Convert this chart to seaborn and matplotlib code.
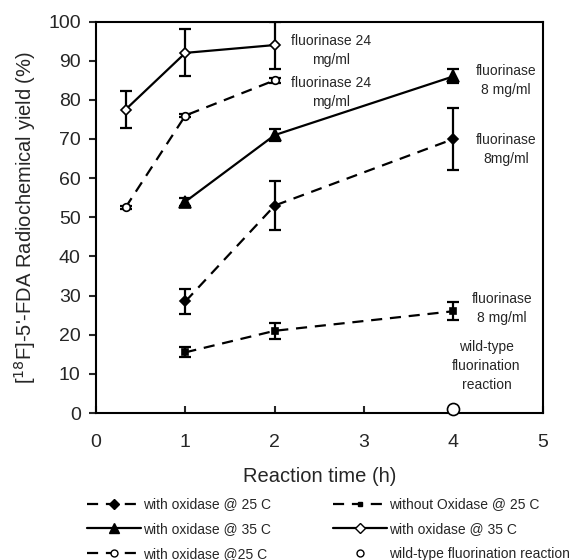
import matplotlib
matplotlib.use("Agg")
import matplotlib.pyplot as plt
from matplotlib.lines import Line2D
import seaborn as sns
import pandas as pd

# ---- data ----
t_late = [1, 2, 4]
t_early = [0.33, 1, 2]

ox25_y = [28.5, 53, 70]
ox25_err = [3.3, 6.2, 8.0]

noox25_y = [15.5, 21, 26]
noox25_err = [1.3, 2.0, 2.3]

ox35_tri_y = [54, 71, 86]
ox35_tri_err = [1.0, 1.6, 1.8]

ox35_dia_y = [77.5, 92, 94]
ox35_dia_err = [4.7, 6.0, 6.0]

ox25_circ_y = [52.5, 76, 85]
ox25_circ_err = [0.4, 0.4, 0.6]

wt_x = [4]
wt_y = [1]

labels_left = ["with oxidase @ 25 C", "with oxidase @ 35 C", "with oxidase @25 C"]
labels_right = ["without Oxidase @ 25 C", "with oxidase @ 35 C", "wild-type fluorination reaction"]

annotations = [
    (2.63, 92.6, "fluorinase 24\nmg/ml"),
    (2.63, 81.8, "fluorinase 24\nmg/ml"),
    (4.59, 85.0, "fluorinase\n8 mg/ml"),
    (4.59, 67.3, "fluorinase\n8mg/ml"),
    (4.54, 26.6, "fluorinase\n8 mg/ml"),
    (4.37, 12.0, "wild-type\nfluorination\nreaction"),
]

sns.set_theme(style="ticks")
plt.rcParams['font.family'] = ['Liberation Sans', 'DejaVu Sans']

fig = plt.figure(figsize=(5.75, 5.6), dpi=100)
ax = fig.add_axes([0.167, 0.2625, 0.777, 0.699])

LW = 1.6
DASH = (5, 3.5)

series = [
    (t_late, ox25_y, ox25_err, dict(marker="D", markersize=5, mfc="black", dashed=True)),
    (t_late, noox25_y, noox25_err, dict(marker="s", markersize=4, mfc="black", dashed=True)),
    (t_late, ox35_tri_y, ox35_tri_err, dict(marker="^", markersize=8, mfc="black", dashed=False)),
    (t_early, ox35_dia_y, ox35_dia_err, dict(marker="D", markersize=5.5, mfc="white", dashed=False)),
    (t_early, ox25_circ_y, ox25_circ_err, dict(marker="o", markersize=5.5, mfc="white", dashed=True)),
]

for x, y, e, st in series:
    df = pd.DataFrame({"x": x, "y": y})
    ax.errorbar(x, y, yerr=e, fmt="none", ecolor="black", elinewidth=1.6,
                capsize=4, capthick=1.6, zorder=2)
    sns.lineplot(data=df, x="x", y="y", ax=ax, color="black", linewidth=LW,
                 marker=st["marker"], markersize=st["markersize"],
                 markerfacecolor=st["mfc"], markeredgecolor="black", markeredgewidth=1.2,
                 dashes=False, zorder=3)
    if st["dashed"]:
        ax.lines[-1].set_dashes(DASH)

wt_df = pd.DataFrame({"x": wt_x, "y": wt_y})
sns.scatterplot(data=wt_df, x="x", y="y", ax=ax, s=75, facecolor="white",
                edgecolor="black", linewidth=1.2, zorder=5, clip_on=False)

for xa, ya, txt in annotations:
    ax.text(xa, ya, txt, ha="center", va="center", fontsize=10, linespacing=1.45)

ax.set_xlim(0, 5)
ax.set_ylim(0, 100)
ax.set_xticks(range(0, 6))
ax.set_yticks(range(0, 101, 10))
ax.tick_params(axis="x", direction="in", length=5, width=1.5, pad=15, labelsize=14)
ax.tick_params(axis="y", direction="out", length=5, width=1.5, pad=6, labelsize=14)
for s in ax.spines.values():
    s.set_linewidth(1.5)
    s.set_color("black")
ax.set_xlabel("Reaction time (h)", fontsize=14.5, labelpad=12)
ax.set_ylabel("[$^{18}$F]-5'-FDA Radiochemical yield (%)", fontsize=14.5, labelpad=7)

h_left = [
    Line2D([], [], color="black", lw=LW, dashes=DASH, marker="D", markersize=5, mfc="black"),
    Line2D([], [], color="black", lw=LW, marker="^", markersize=7, mfc="black"),
    Line2D([], [], color="black", lw=LW, dashes=DASH, marker="o", markersize=5, mfc="white"),
]
h_right = [
    Line2D([], [], color="black", lw=LW, dashes=DASH, marker="s", markersize=3.5, mfc="black"),
    Line2D([], [], color="black", lw=LW, marker="D", markersize=5, mfc="white"),
    Line2D([], [], color="none", marker="o", markersize=5, mfc="white", mec="black"),
]
common = dict(frameon=False, fontsize=10, handlelength=3.9, handletextpad=0.15,
              labelspacing=0.78, borderaxespad=0, borderpad=0, loc="center left")
leg1 = fig.legend(h_left, labels_left, bbox_to_anchor=(0.151, 0.055), **common)
leg2 = fig.legend(h_right, labels_right, bbox_to_anchor=(0.579, 0.055), **common)

fig.savefig("out.png", dpi=100)
